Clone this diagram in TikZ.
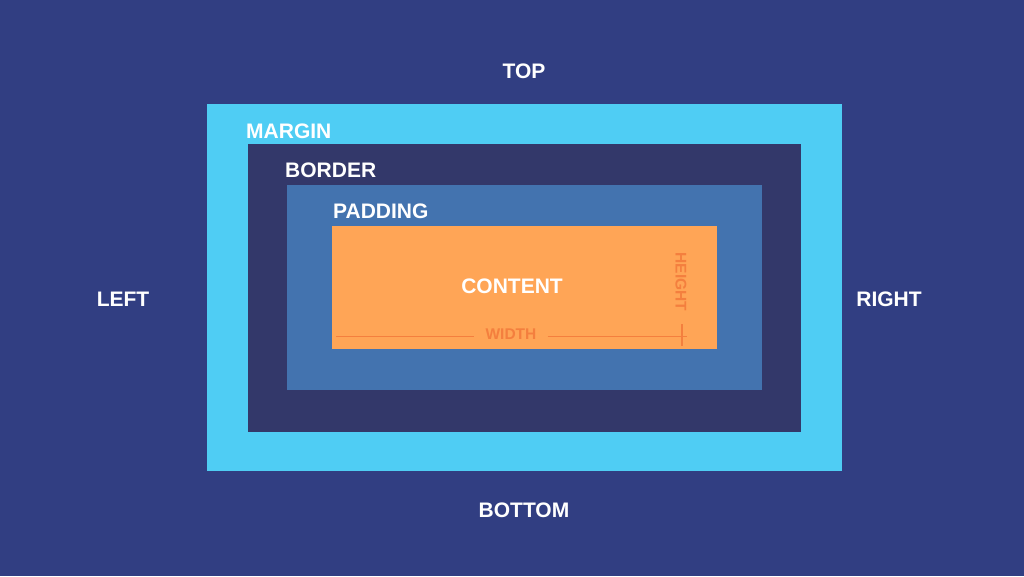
\documentclass[tikz,border=0pt]{standalone}
\usepackage{fontspec}
\setmainfont{Liberation Sans}
\definecolor{bgc}{HTML}{313E82}
\definecolor{marginc}{HTML}{4FCDF4}
\definecolor{borderc}{HTML}{33386A}
\definecolor{paddingc}{HTML}{4373AF}
\definecolor{contentc}{HTML}{FFA556}
\definecolor{dimc}{HTML}{F47F3E}
\begin{document}
\begin{tikzpicture}[x=1pt,y=-1pt,
  lbl/.style={text=white, font=\fontsize{21}{21}\selectfont\bfseries, inner sep=0pt, text height=15pt, text depth=0pt},
  dimlbl/.style={text=dimc, font=\fontsize{15.5}{15.5}\selectfont\bfseries, inner sep=0pt, text height=11pt, text depth=0pt},
  dimline/.style={draw=dimc, line width=1.5pt},
  boxr/.style={inner sep=0pt, outer sep=0pt, anchor=north west}]
\useasboundingbox (0,0) rectangle (1024,576);
\fill[bgc] (0,0) rectangle (1024,576);
\node[boxr, fill=marginc, minimum width=635pt, minimum height=367pt] (margin) at (207,104) {};
\node[boxr, fill=borderc, minimum width=553pt, minimum height=288pt] (border) at (248,144) {};
\node[boxr, fill=paddingc, minimum width=475pt, minimum height=205pt] (padding) at (287,185) {};
\node[boxr, fill=contentc, minimum width=385pt, minimum height=123pt] (content) at (332,226) {};
\node[lbl] (top) at (524,71) {TOP};
\node[lbl] (bottom) at (524,510) {BOTTOM};
\node[lbl] (left) at (123,299) {LEFT};
\node[lbl] (right) at (889,299) {RIGHT};
\node[lbl, anchor=west] (marginl) at (246,130.5) {MARGIN};
\node[lbl, anchor=west] (borderl) at (285,170) {BORDER};
\node[lbl, anchor=west] (paddingl) at (333,210.5) {PADDING};
\node[lbl] (contentl) at (512,286) {CONTENT};
\node[dimlbl] (widthl) at (511,334) {WIDTH};
\node[dimlbl, rotate=-90] (heightl) at (681,282) {HEIGHT};
\coordinate (wl) at (336,336.5);
\coordinate (wr) at (687,336.5);
\coordinate (tt) at (682,324);
\coordinate (tb) at (682,346);
\draw[dimline] (wl) -- ([xshift=-11pt]widthl.west |- wl);
\draw[dimline] ([xshift=11pt]widthl.east |- wr) -- (wr);
\draw[dimline] (tt) -- (tb);
\end{tikzpicture}
\end{document}
